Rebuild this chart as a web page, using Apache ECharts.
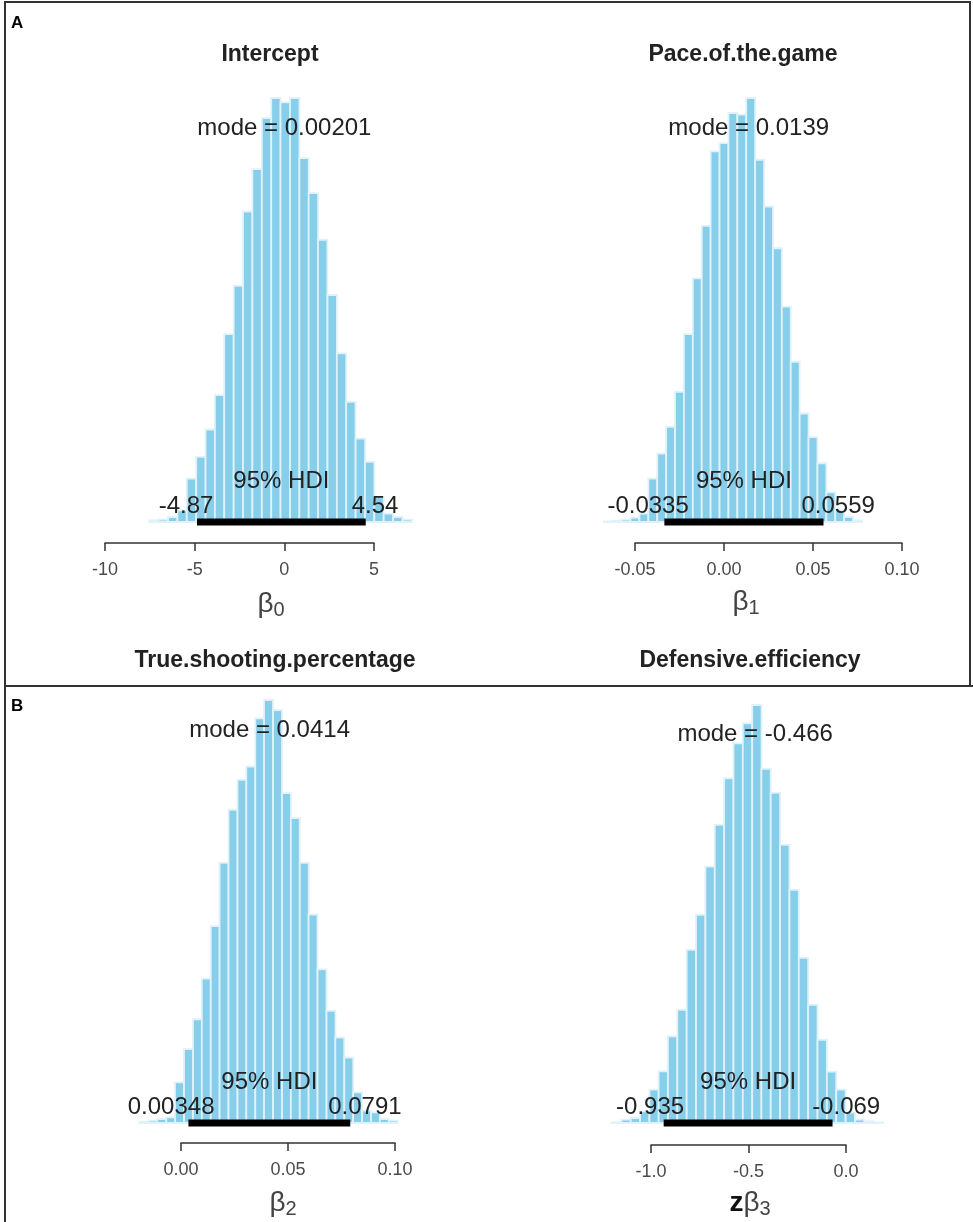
<!DOCTYPE html>
<html><head><meta charset="utf-8">
<script src="https://cdn.jsdelivr.net/npm/echarts@6/dist/echarts.min.js"></script>
<style>html,body{margin:0;padding:0;background:#fff}#c{width:973px;height:1222px}</style>
</head><body><div id="c"></div>
<script>
// ---- Panel A1: Intercept ----
const p1Title = 'Intercept';
const p1Centers = [-7.27,-6.75,-6.22,-5.70,-5.18,-4.65,-4.13,-3.61,-3.09,-2.56,-2.04,-1.52,-0.99,-0.47,0.05,0.58,1.10,1.62,2.14,2.67,3.19,3.71,4.24,4.76,5.28,5.80,6.33,6.85];
const p1Counts = [5,7,15,35,130,195,277,380,563,707,930,1057,1210,1270,1257,1270,1090,985,845,680,505,360,250,180,75,25,15,7];
const p1BinWidth = 0.523;
const p1Ticks = [-10,-5,0,5];
const p1TickLabels = ['-10','-5','0','5'];
const p1Mode = 0.00201;
const p1HDI = [-4.87, 4.54];

// ---- Panel A2: Pace.of.the.game ----
const p2Title = 'Pace.of.the.game';
const p2Centers = [-0.065,-0.060,-0.055,-0.050,-0.045,-0.040,-0.035,-0.030,-0.025,-0.020,-0.015,-0.010,-0.005,0.000,0.005,0.010,0.015,0.020,0.025,0.030,0.035,0.040,0.045,0.050,0.055,0.060,0.065,0.070,0.075];
const p2Counts = [2,4,7,13,25,130,205,285,390,563,730,887,1110,1135,1225,1220,1270,1085,945,820,645,480,325,254,176,89,35,15,5];
const p2BinWidth = 0.005;
const p2Ticks = [-0.05,0,0.05,0.10];
const p2TickLabels = ['-0.05','0.00','0.05','0.10'];
const p2Mode = 0.0139;
const p2HDI = [-0.0335, 0.0559];

// ---- Panel B1: True.shooting.percentage ----
const p3Title = 'True.shooting.percentage';
const p3Centers = [-0.0173,-0.0131,-0.0090,-0.0048,-0.0007,0.0035,0.0077,0.0118,0.0160,0.0201,0.0243,0.0285,0.0326,0.0368,0.0409,0.0451,0.0493,0.0534,0.0576,0.0617,0.0659,0.0701,0.0742,0.0784,0.0825,0.0867,0.0909,0.0950,0.0992];
const p3Counts = [4,7,12,17,122,222,312,434,592,782,942,1032,1072,1217,1272,1242,992,917,782,627,462,337,257,197,92,37,32,12,7];
const p3BinWidth = 0.00416;
const p3Ticks = [0,0.05,0.10];
const p3TickLabels = ['0.00','0.05','0.10'];
const p3Mode = 0.0414;
const p3HDI = [0.00348, 0.0791];

// ---- Panel B2: Defensive.efficiency ----
const p4Title = 'Defensive.efficiency';
const p4Centers = [-1.176,-1.128,-1.080,-1.032,-0.984,-0.937,-0.889,-0.841,-0.793,-0.745,-0.697,-0.649,-0.601,-0.553,-0.505,-0.457,-0.410,-0.362,-0.314,-0.266,-0.218,-0.170,-0.122,-0.074,-0.026,0.022,0.070,0.118,0.166];
const p4Counts = [2,10,15,35,100,155,260,340,520,625,770,895,1035,1140,1200,1255,1063,991,835,700,496,355,250,154,100,31,10,5,2];
const p4BinWidth = 0.0479;
const p4Ticks = [-1.0,-0.5,0.0];
const p4TickLabels = ['-1.0','-0.5','0.0'];
const p4Mode = -0.466;
const p4HDI = [-0.935, -0.069];

const FONT = '"Liberation Sans", Arial, sans-serif';
const BAR = '#87CEEB';

const panels = [
  {centers:p1Centers, counts:p1Counts, bw:p1BinWidth, ticks:p1Ticks, labels:p1TickLabels, mode:p1Mode, hdi:p1HDI,
   grid:{left:105, width:269, top:98, height:424}, offset:21},
  {centers:p2Centers, counts:p2Counts, bw:p2BinWidth, ticks:p2Ticks, labels:p2TickLabels, mode:p2Mode, hdi:p2HDI,
   grid:{left:635, width:267, top:98, height:424}, offset:21},
  {centers:p3Centers, counts:p3Counts, bw:p3BinWidth, ticks:p3Ticks, labels:p3TickLabels, mode:p3Mode, hdi:p3HDI,
   grid:{left:181, width:214, top:700, height:423}, offset:20},
  {centers:p4Centers, counts:p4Counts, bw:p4BinWidth, ticks:p4Ticks, labels:p4TickLabels, mode:p4Mode, hdi:p4HDI,
   grid:{left:651, width:195, top:705, height:418}, offset:22}
];

const mctx = document.createElement('canvas').getContext('2d');
function textW(t, size){ mctx.font = size + 'px ' + FONT; return mctx.measureText(t).width; }

const grids = [], xAxes = [], yAxes = [], series = [];
panels.forEach((p, i) => {
  const maxC = Math.max.apply(null, p.counts);
  grids.push(Object.assign({containLabel:false}, p.grid));
  const tmin = p.ticks[0], tmax = p.ticks[p.ticks.length-1];
  xAxes.push({
    type:'value', gridIndex:i, min:tmin, max:tmax, interval:p.ticks[1]-p.ticks[0],
    position:'bottom', offset:p.offset, splitLine:{show:false},
    axisLine:{show:true, onZero:false, lineStyle:{color:'#333', width:1.5}},
    axisTick:{show:true, length:8, lineStyle:{color:'#333', width:1.5}},
    axisLabel:{margin:18, fontSize:18, color:'#4a4a4a', fontFamily:FONT,
      formatter:(v)=>{ let best=0; p.ticks.forEach((t,k)=>{ if(Math.abs(t-v)<Math.abs(p.ticks[best]-v)) best=k; }); return p.labels[best]; }}
  });
  yAxes.push({type:'value', gridIndex:i, min:0, max:maxC, show:false});
  const bw = p.bw;
  series.push({
    type:'custom', xAxisIndex:i, yAxisIndex:i, clip:false, z:2,
    data:p.centers.map((c,k)=>[c, p.counts[k]]),
    renderItem:(params, api)=>{
      const c = api.value(0), h = api.value(1);
      const a = api.coord([c - bw/2, 0]), b = api.coord([c + bw/2, h]);
      return {type:'rect', shape:{x:a[0], y:b[1], width:b[0]-a[0], height:a[1]-b[1]},
        style:{fill:BAR, stroke:'#dff1f9', lineWidth:1.8}};
    }
  });
  series.push({
    type:'custom', xAxisIndex:i, yAxisIndex:i, clip:false, z:5,
    data:[[p.hdi[0], p.hdi[1], p.mode]],
    renderItem:(params, api)=>{
      const lo = api.value(0), hi = api.value(1), md = api.value(2);
      const pl = api.coord([lo, 0]), ph = api.coord([hi, 0]);
      const pm = api.coord([md, 0.9*maxC]);
      const pc = api.coord([(lo+hi)/2, 0]);
      const loTxt = String(p.hdi[0]), hiTxt = String(p.hdi[1]);
      const wl = textW(loTxt, 24), wh = textW(hiTxt, 24);
      const ts = (t, x, y, align) => ({type:'text', x:x, y:y,
        style:{text:t, fontSize:24, fontFamily:FONT, fill:'#222', align:align, verticalAlign:'bottom'}});
      return {type:'group', children:[
        {type:'line', shape:{x1:pl[0], y1:pl[1], x2:ph[0], y2:ph[1]}, style:{stroke:'#000', lineWidth:7}},
        ts('95% HDI', pc[0], pc[1]-29, 'center'),
        ts(loTxt, pl[0]-0.7*wl, pl[1]-4, 'left'),
        ts(hiTxt, ph[0]-0.3*wh, ph[1]-4, 'left'),
        ts('mode = ' + String(p.mode), pm[0], pm[1], 'center')
      ]};
    }
  });
});

function ttl(t, x, y){ return {type:'text', x:x, y:y, style:{text:t, fontSize:23, fontWeight:'bold', fontFamily:FONT, fill:'#222', align:'center', verticalAlign:'middle'}}; }
function blab(pre, sub, x, y){
  return {type:'text', x:x, y:y, style:{
    text:(pre?'{z|'+pre+'}':'')+'{b|β}{s|'+sub+'}', align:'center', verticalAlign:'middle',
    rich:{
      z:{fontSize:28, fontWeight:'bold', fontFamily:FONT, fill:'#111', lineHeight:34},
      b:{fontSize:28, fontFamily:FONT, fill:'#444', lineHeight:34},
      s:{fontSize:20, fontFamily:FONT, fill:'#444', lineHeight:34, padding:[12,0,0,0]}
    }}};
}

const graphic = [
  {type:'rect', shape:{x:5, y:2, width:965, height:684}, style:{fill:'none', stroke:'#333', lineWidth:2}, z:10},
  {type:'line', shape:{x1:5, y1:686, x2:973, y2:686}, style:{stroke:'#333', lineWidth:2}, z:10},
  {type:'line', shape:{x1:5, y1:686, x2:5, y2:1222}, style:{stroke:'#333', lineWidth:2}, z:10},
  {type:'text', x:11, y:15, style:{text:'A', fontSize:17, fontWeight:'bold', fontFamily:FONT, fill:'#000'}},
  {type:'text', x:11, y:698, style:{text:'B', fontSize:17, fontWeight:'bold', fontFamily:FONT, fill:'#000'}},
  ttl(p1Title, 270, 55), ttl(p2Title, 743, 55), ttl(p3Title, 275, 661), ttl(p4Title, 750, 661),
  blab('', '0', 271, 604), blab('', '1', 746, 602), blab('', '2', 283, 1203), blab('z', '3', 750, 1203)
];

const chart = echarts.init(document.getElementById('c'), null, {renderer:'canvas'});
chart.setOption({animation:false, backgroundColor:'#fff', grid:grids, xAxis:xAxes, yAxis:yAxes, series:series, graphic:graphic});
</script></body></html>
